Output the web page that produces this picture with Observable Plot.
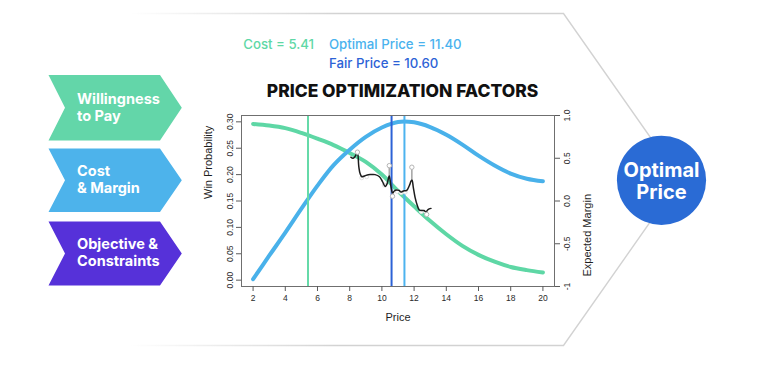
<!DOCTYPE html>
<html>
<head>
<meta charset="utf-8">
<script src="https://cdn.jsdelivr.net/npm/d3@7"></script>
<script src="https://cdn.jsdelivr.net/npm/@observablehq/plot@0.6"></script>
<style>
  html, body { margin: 0; padding: 0; background: #fff; }
  #chart { width: 760px; height: 378px; overflow: hidden; }
</style>
</head>
<body>
<div id="chart"></div>
<script>
// ---------------- data ----------------
const prices = [2, 3, 4, 5, 6, 7, 8, 9, 10, 11, 12, 13, 14, 15, 16, 17, 18, 19, 20];
const winProbability = [0.296, 0.293, 0.288, 0.279, 0.268, 0.256, 0.241, 0.224, 0.200, 0.169, 0.140, 0.112, 0.087, 0.065, 0.048, 0.035, 0.025, 0.019, 0.0145];
const expectedMargin = [-0.915, -0.64, -0.37, -0.09, 0.18, 0.42, 0.60, 0.75, 0.86, 0.925, 0.92, 0.865, 0.775, 0.66, 0.53, 0.415, 0.32, 0.26, 0.23];

const observedPrice = [8.07, 8.20, 8.30, 8.40, 8.48, 8.57, 8.65, 8.75, 8.96, 9.27, 9.58, 9.85, 10.05, 10.20, 10.30, 10.40, 10.46, 10.57, 10.67, 10.77, 10.92, 11.06, 11.19, 11.33, 11.54, 11.70, 11.81, 11.87, 11.95, 12.06, 12.20, 12.32, 12.47, 12.61, 12.74, 12.84, 12.94, 13.05];
const observedWin = [0.233, 0.231, 0.233, 0.238, 0.2425, 0.214, 0.2015, 0.196, 0.198, 0.200, 0.200, 0.196, 0.186, 0.1775, 0.181, 0.192, 0.198, 0.176, 0.165, 0.169, 0.171, 0.170, 0.167, 0.169, 0.170, 0.179, 0.1875, 0.190, 0.176, 0.157, 0.1415, 0.133, 0.132, 0.132, 0.129, 0.133, 0.135, 0.136];

const markerPrice = [8.48, 10.46, 10.66, 11.86, 12.78];
const markerLine = [0.2425, 0.198, 0.166, 0.190, 0.129];
const markerValue = [0.2425, 0.217, 0.159, 0.214, 0.1245];

const faintPrice = [8.75, 9.05, 10.15, 10.95, 11.2, 11.45, 12.45];
const faintWin = [0.194, 0.196, 0.180, 0.168, 0.166, 0.167, 0.130];

const priceLineNames = ["Cost", "Fair Price", "Optimal Price"];
const priceLineValues = [5.41, 10.60, 11.40];

const xTicks = [2, 4, 6, 8, 10, 12, 14, 16, 18, 20];
const winTicks = [0, 0.05, 0.10, 0.15, 0.20, 0.25, 0.30];
const marginTicks = [-1, -0.5, 0, 0.5, 1];
const marginTickLabels = ["-1", "-0.5", "0.0", "0.5", "1.0"];

const factorLabels = [["Willingness", "to Pay"], ["Cost", "& Margin"], ["Objective &", "Constraints"]];
const titleText = "PRICE OPTIMIZATION FACTORS";
const outcomeLabel = ["Optimal", "Price"];

// ---------------- colours ----------------
const GREEN = "#5ed7a5";
const BLUE = "#49b1ea";
const DARKBLUE = "#2c62d6";
const PURPLE = "#5631d9";
const CIRCLE = "#2a6bd5";

// ---------------- tables ----------------
const curves = prices.map((p, i) => ({price: p, win: winProbability[i], margin: expectedMargin[i]}));
const observed = observedPrice.map((p, i) => ({price: p, win: observedWin[i]}));
const markers = markerPrice.map((p, i) => ({price: p, line: markerLine[i], value: markerValue[i]}));
const faint = faintPrice.map((p, i) => ({price: p, win: faintWin[i]}));
const vlines = priceLineNames.map((n, i) => ({name: n, price: priceLineValues[i]}));
const vColors = {"Cost": "#66daa9", "Fair Price": DARKBLUE, "Optimal Price": "#4cb3ef"};

// left (win probability) domain and right (expected margin) mapping
const yDomain = [-0.012, 0.312];
const toLeft = m => yDomain[0] + (m + 1) / 2 * (yDomain[1] - yDomain[0]);

const AX_FONT = "'Liberation Sans', Arial, sans-serif";

const chart = Plot.plot({
  width: 760,
  height: 378,
  marginLeft: 241,
  marginRight: 206,
  marginTop: 115,
  marginBottom: 92,
  x: {domain: [1.28, 20.72]},
  y: {domain: yDomain},
  style: {fontFamily: AX_FONT, fontSize: "8.5px", color: "#2a2a2a", background: "transparent"},
  marks: [
    Plot.line(curves, {x: "price", y: "win", stroke: GREEN, strokeWidth: 4, curve: "catmull-rom"}),
    Plot.line(curves, {x: "price", y: d => toLeft(d.margin), stroke: BLUE, strokeWidth: 4, curve: "catmull-rom"}),
    Plot.ruleX(vlines, {x: "price", stroke: d => vColors[d.name], strokeWidth: 2}),
    Plot.ruleX(markers, {x: "price", y1: "line", y2: "value", stroke: "#a8a8a8", strokeWidth: 1.6}),
    Plot.dot(faint, {x: "price", y: "win", r: 2, stroke: "#e2e2e2", fill: "white", strokeWidth: 1}),
    Plot.line(observed, {x: "price", y: "win", stroke: "#1c1c1c", strokeWidth: 1.5, curve: "catmull-rom"}),
    Plot.dot(markers, {x: "price", y: "value", r: 2.2, stroke: "#b5b5b5", fill: "white", strokeWidth: 1}),
    Plot.frame({stroke: "#6f6f6f", strokeWidth: 1}),
    Plot.axisX(xTicks, {tickSize: 5, tickPadding: 3, label: null, stroke: "#5a5a5a"}),
    Plot.axisY(winTicks, {anchor: "left", tickSize: 5, tickRotate: -90, tickFormat: d3.format(".2f"), label: null, stroke: "#5a5a5a"}),
    Plot.axisY(marginTicks.map(toLeft), {
      anchor: "right", tickSize: 5, tickRotate: -90, lineAnchor: "top", tickPadding: 4, label: null, stroke: "#5a5a5a",
      tickFormat: d => marginTickLabels[marginTicks.findIndex(t => Math.abs(toLeft(t) - d) < 1e-9)]
    }),
    Plot.text(["Price"], {frameAnchor: "bottom", dy: 27, lineAnchor: "top", fontSize: 11, fill: "#1e1e1e"}),
    Plot.text(["Win Probability"], {frameAnchor: "left", dx: -33, dy: -2, rotate: -90, fontSize: 11, fill: "#1e1e1e"}),
    Plot.text(["Expected Margin"], {frameAnchor: "right", dx: 33, dy: -7, rotate: -90, fontSize: 11, fill: "#1e1e1e"})
  ]
});

document.getElementById("chart").appendChild(chart);

// ---------------- infographic decorations ----------------
const svg = d3.select(chart);
const UI_FONT = "Inter, 'Open Sans', Lato, sans-serif";

const defs = svg.append("defs");
const grad = defs.append("linearGradient")
  .attr("id", "fadeOutline").attr("gradientUnits", "userSpaceOnUse")
  .attr("x1", 130).attr("y1", 0).attr("x2", 340).attr("y2", 0);
grad.append("stop").attr("offset", 0).attr("stop-color", "#d2d2d2").attr("stop-opacity", 0);
grad.append("stop").attr("offset", 1).attr("stop-color", "#d2d2d2").attr("stop-opacity", 1);

const back = svg.insert("g", ":first-child");
back.append("rect").attr("width", 760).attr("height", 378).attr("fill", "white");
back.append("path")
  .attr("d", "M130,13.5 L563.5,13.5 L680,179.5 L563.5,345.5 L130,345.5")
  .attr("fill", "none").attr("stroke", "url(#fadeOutline)").attr("stroke-width", 1.4);

const front = svg.append("g");

function addText(g, t, x, y, o) {
  return g.append("text").attr("x", x).attr("y", y).text(t)
    .attr("font-family", o.family || UI_FONT)
    .attr("font-weight", o.weight || 700)
    .attr("font-size", o.size || 14)
    .attr("fill", o.fill || "#000")
    .attr("text-anchor", o.anchor || "start");
}
function fitSize(el, width) {
  const w = el.node().getComputedTextLength();
  const s = +el.attr("font-size") * width / w;
  el.attr("font-size", s);
  return s;
}

// chevrons
const chevrons = [
  {top: 75, bottom: 140.5, fill: "#63d6a9"},
  {top: 148.5, bottom: 212, fill: "#4db3eb"},
  {top: 221.5, bottom: 285.5, fill: PURPLE}
];
const chevronBaselines = [[104, 121], [176, 192.5], [248.5, 266]];
let chevSize = null;
chevrons.forEach((c, i) => {
  const mid = (c.top + c.bottom) / 2;
  front.append("path")
    .attr("d", `M48.5,${c.top} L160,${c.top} L181.8,${mid} L160,${c.bottom} L48.5,${c.bottom} L65,${mid} Z`)
    .attr("fill", c.fill);
});
{
  const probe = addText(front, factorLabels[0][0], 77, chevronBaselines[0][0], {size: 14, fill: "white"});
  chevSize = fitSize(probe, 83);
  probe.remove();
}
factorLabels.forEach((lines, i) => {
  lines.forEach((t, j) => {
    addText(front, t, 77, chevronBaselines[i][j], {size: chevSize, fill: "white", weight: 700});
  });
});

// outcome circle
front.append("circle").attr("cx", 661.5).attr("cy", 180.3).attr("r", 44.6).attr("fill", CIRCLE);
{
  const o1 = addText(front, outcomeLabel[0], 661.5, 176.8, {size: 19, fill: "white", anchor: "middle"});
  const s = fitSize(o1, 76);
  addText(front, outcomeLabel[1], 661.5, 199.3, {size: s, fill: "white", anchor: "middle"});
}

// title
{
  const t = addText(front, titleText, 402.5, 97.3, {size: 17, fill: "#111", anchor: "middle", weight: 800});
  fitSize(t, 271.7);
}

// header values
{
  const fmt = d3.format(".2f");
  const opt = addText(front, `${priceLineNames[2]} = ${fmt(priceLineValues[2])}`, 329, 48.5, {size: 13.5, fill: "#4ab2ee", weight: 500});
  const hs = fitSize(opt, 132.7);
  addText(front, `${priceLineNames[0]} = ${fmt(priceLineValues[0])}`, 243.3, 48.5, {size: hs, fill: "#5fd8a6", weight: 500});
  addText(front, `${priceLineNames[1]} = ${fmt(priceLineValues[1])}`, 329, 67.5, {size: hs, fill: DARKBLUE, weight: 500});
}
</script>
</body>
</html>
